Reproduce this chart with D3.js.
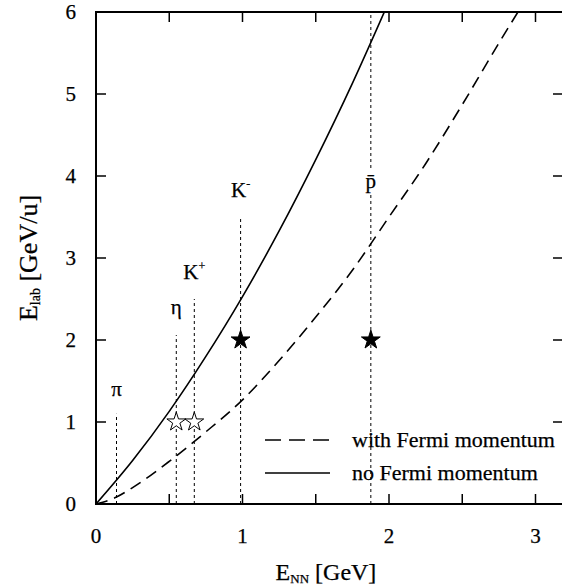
<!DOCTYPE html>
<html>
<head>
<meta charset="utf-8">
<script src="https://cdn.jsdelivr.net/npm/d3@7"></script>
<style>
  html, body { margin: 0; padding: 0; background: #fff; }
  svg { display: block; }
  text { font-family: "Liberation Serif", "Times New Roman", serif; fill: #000; stroke: #000; stroke-width: 0.25; }
</style>
</head>
<body>
<svg id="chart" width="562" height="587"></svg>
<script>
// Threshold curves: energy available in the NN system vs. beam energy per nucleon
const eNN          = [0, 0.25, 0.5, 0.75, 1.0, 1.25, 1.5, 1.75, 1.968];
const eLabNoFermi  = [0, 0.53, 1.13, 1.80, 2.53, 3.33, 4.20, 5.13, 6.0];
const eNNFermi     = [0, 0.14, 0.25, 0.5, 0.75, 1.0, 1.25, 1.5, 1.75, 2.0, 2.25, 2.5, 2.75, 2.88];
const eLabFermi    = [0, 0.085, 0.2, 0.52, 0.88, 1.27, 1.75, 2.28, 2.85, 3.5, 4.15, 4.87, 5.62, 6.0];

// Produced particles: threshold, height of marker line, label position
const particles    = ["π", "η", "K+", "K-", "p̄"];
const thresholds   = [0.14, 0.548, 0.671, 0.987, 1.876];
const lineTops     = [1.1, 2.06, 2.5, 3.5, 6.0];
const labelY       = [1.32, 2.32, 2.75, 3.75, 3.85];
// Star markers (open = measured subthreshold, filled = other data)
const starX        = [0.548, 0.671, 0.987, 1.876];
const starY        = [1, 1, 2, 2];
const starFilled   = [false, false, true, true];

const xTicks = [0, 1, 2, 3];
const xMinor = [0.5, 1.5, 2.5];
const yTicks = [0, 1, 2, 3, 4, 5, 6];

const svg = d3.select("#chart");
const pLeft = 96, pRight = 563, pTop = 12, pBottom = 504;

const x = d3.scaleLinear().domain([0, (pRight - pLeft) / 146.5]).range([pLeft, pRight]);
const y = d3.scaleLinear().domain([0, 6]).range([pBottom, pTop]);

// frame
svg.append("rect")
  .attr("x", pLeft).attr("y", pTop)
  .attr("width", pRight - pLeft).attr("height", pBottom - pTop)
  .attr("fill", "none").attr("stroke", "#000").attr("stroke-width", 2);

const tickLen = 10;
const allX = xTicks.concat(xMinor).filter(v => v > 0);
// bottom and top ticks (inward)
svg.append("g").selectAll("line").data(allX).join("line")
  .attr("x1", d => x(d)).attr("x2", d => x(d))
  .attr("y1", pBottom).attr("y2", pBottom - tickLen)
  .attr("stroke", "#000").attr("stroke-width", 1.5);
svg.append("g").selectAll("line").data(allX).join("line")
  .attr("x1", d => x(d)).attr("x2", d => x(d))
  .attr("y1", pTop).attr("y2", pTop + tickLen)
  .attr("stroke", "#000").attr("stroke-width", 1.5);
// left and right ticks
const innerY = yTicks.filter(v => v > 0 && v < 6);
svg.append("g").selectAll("line").data(innerY).join("line")
  .attr("x1", pLeft).attr("x2", pLeft + tickLen)
  .attr("y1", d => y(d)).attr("y2", d => y(d))
  .attr("stroke", "#000").attr("stroke-width", 1.5);
svg.append("g").selectAll("line").data(innerY).join("line")
  .attr("x1", pRight - tickLen).attr("x2", pRight)
  .attr("y1", d => y(d)).attr("y2", d => y(d))
  .attr("stroke", "#000").attr("stroke-width", 1.5);

// tick labels
svg.append("g").selectAll("text").data(xTicks).join("text")
  .attr("x", d => x(d)).attr("y", 543)
  .attr("text-anchor", "middle").attr("font-size", 21)
  .text(d => d);
svg.append("g").selectAll("text").data(yTicks).join("text")
  .attr("x", 76).attr("y", d => y(d)).attr("dy", "0.35em")
  .attr("text-anchor", "end").attr("font-size", 21)
  .text(d => d);

// axis titles
const xt = svg.append("text").attr("x", 326).attr("y", 580)
  .attr("text-anchor", "middle").attr("font-size", 24);
xt.append("tspan").text("E");
xt.append("tspan").attr("font-size", 13).attr("dy", 3).text("NN");
xt.append("tspan").attr("dy", -3).text(" [GeV]");

const yt = svg.append("text")
  .attr("transform", "translate(37," + ((pTop + pBottom) / 2) + ") rotate(-90)")
  .attr("text-anchor", "middle").attr("font-size", 26);
yt.append("tspan").text("E");
yt.append("tspan").attr("font-size", 14).attr("dy", 3).text("lab");
yt.append("tspan").attr("dy", -3).text(" [GeV/u]");

// threshold marker lines
const pData = particles.map((p, i) => ({ p, x: thresholds[i], lineTop: lineTops[i], ly: labelY[i] }));
svg.append("g").selectAll("line").data(pData).join("line")
  .attr("x1", d => x(d.x)).attr("x2", d => x(d.x))
  .attr("y1", y(0)).attr("y2", d => y(d.lineTop))
  .attr("stroke", "#000").attr("stroke-width", 1)
  .attr("stroke-dasharray", "3,3");

// white gap behind the p̄ label on its full-height line
const pb = pData[4];
svg.append("rect")
  .attr("x", x(pb.x) - 7).attr("y", y(pb.ly) - 20)
  .attr("width", 14).attr("height", 26).attr("fill", "#fff");

// particle labels
const lab = svg.append("g").selectAll("text").data(pData).join("text")
  .attr("x", d => x(d.x)).attr("y", d => y(d.ly))
  .attr("text-anchor", "middle").attr("font-size", 21);
lab.each(function (d) {
  const t = d3.select(this);
  if (d.p === "K+" || d.p === "K-") {
    t.append("tspan").text("K");
    t.append("tspan").attr("font-size", 12).attr("dy", -9).text(d.p === "K+" ? "+" : "-");
  } else {
    t.text(d.p);
  }
});

// curves
svg.append("clipPath").attr("id", "plotclip").append("rect")
  .attr("x", pLeft).attr("y", pTop).attr("width", pRight - pLeft).attr("height", pBottom - pTop);
const line = d3.line().x(d => x(d[0])).y(d => y(d[1])).curve(d3.curveMonotoneX);

svg.append("path")
  .datum(eNN.map((v, i) => [v, eLabNoFermi[i]]))
  .attr("d", line).attr("fill", "none").attr("stroke", "#000")
  .attr("stroke-width", 1.6).attr("clip-path", "url(#plotclip)");
svg.append("path")
  .datum(eNNFermi.map((v, i) => [v, eLabFermi[i]]))
  .attr("d", line).attr("fill", "none").attr("stroke", "#000")
  .attr("stroke-width", 1.6).attr("stroke-dasharray", "12,7")
  .attr("clip-path", "url(#plotclip)");

// stars
const star = d3.symbol().type(d3.symbolStar).size(110);
svg.append("g").selectAll("path").data(starX.map((v, i) => ({ x: v, y: starY[i], f: starFilled[i] })))
  .join("path")
  .attr("transform", d => "translate(" + x(d.x) + "," + y(d.y) + ")")
  .attr("d", star)
  .attr("fill", d => d.f ? "#000" : "#fff")
  .attr("stroke", "#000").attr("stroke-width", 1);

// legend
const legend = [
  { label: "with Fermi momentum", dash: "16,8", yy: 440 },
  { label: "no Fermi momentum", dash: null, yy: 473 }
];
const lg = svg.append("g");
legend.forEach(l => {
  lg.append("line").attr("x1", 265).attr("x2", 330).attr("y1", l.yy).attr("y2", l.yy)
    .attr("stroke", "#000").attr("stroke-width", 1.6)
    .attr("stroke-dasharray", l.dash);
  lg.append("text").attr("x", 352).attr("y", l.yy + 7).attr("font-size", 22).text(l.label);
});
</script>
</body>
</html>
